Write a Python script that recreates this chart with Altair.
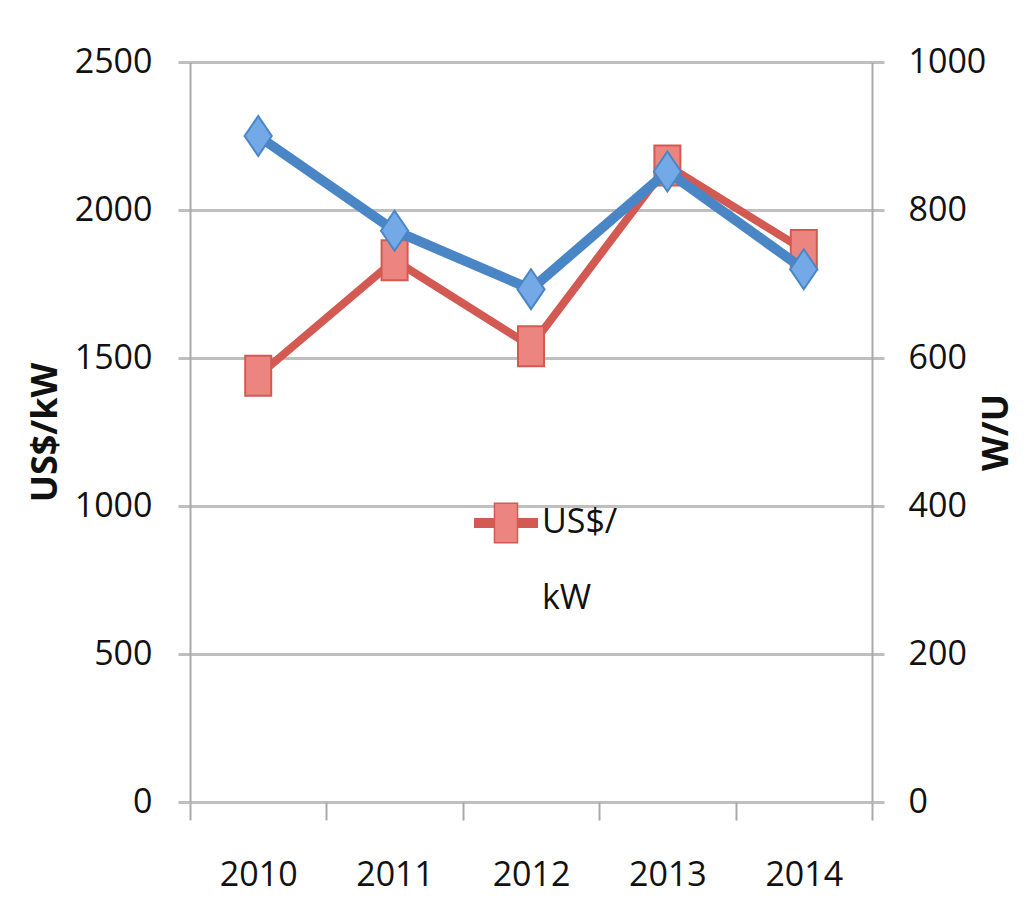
import altair as alt
import pandas as pd

years = [2010, 2011, 2012, 2013, 2014]
usd_per_kw = [1440, 1830, 1540, 2150, 1865]
w_per_u = [900, 772, 693, 852, 720]
left_ticks = [0, 500, 1000, 1500, 2000, 2500]
right_ticks = [0, 200, 400, 600, 800, 1000]
x_ticks = [2009.5, 2010.5, 2011.5, 2012.5, 2013.5, 2014.5]

RED_LINE = "#d35a52"
RED_FILL = "#ec8580"
BLUE_LINE = "#4a86c6"
BLUE_FILL = "#72a9e6"
GRID = "#bfbfbf"
AXISLINE = "#a9a9a9"
FONT = "Open Sans"

df = pd.DataFrame({"year": years, "usd": usd_per_kw, "wu": w_per_u})

W, H = 682, 740

x_enc = alt.X(
    "year:Q",
    scale=alt.Scale(domain=[2009.5, 2014.5], nice=False, zero=False),
    axis=alt.Axis(
        values=x_ticks,
        labelExpr="datum.value < 2014 ? toString(datum.value + 0.5) : ''",
        labelOffset=W / 10,
        tickSize=18, tickColor=AXISLINE, tickWidth=2,
        domain=False, grid=False,
        labelFont=FONT, labelFontSize=34, labelColor="#111111",
        labelBaseline="top", labelPadding=38, labelAlign="center",
        title=None,
    ),
)

left_axis = alt.Axis(
    values=left_ticks, format="d", grid=True, gridColor=GRID, gridWidth=3,
    domainColor=AXISLINE, domainWidth=2,
    tickSize=12, tickColor=GRID, tickWidth=3,
    labelFont=FONT, labelFontSize=34, labelColor="#111111", labelPadding=26,
    title="US$/kW", titleFont=FONT, titleFontWeight="bold",
    titleFontSize=36, titleColor="#111111", titleAngle=270,
    titleX=-145, titleY=H / 2, titleBaseline="middle", titleAlign="center",
)

right_axis = alt.Axis(
    orient="right", values=right_ticks, format="d", grid=False,
    domainColor=AXISLINE, domainWidth=2,
    tickSize=12, tickColor=GRID, tickWidth=3,
    labelFont=FONT, labelFontSize=34, labelColor="#111111", labelPadding=24,
    title="W/U", titleFont=FONT, titleFontWeight="bold",
    titleFontSize=36, titleColor="#111111", titleAngle=270,
    titleX=124, titleY=H / 2, titleBaseline="middle", titleAlign="center",
)

red_y = alt.Y("usd:Q", scale=alt.Scale(domain=[0, 2500], nice=False), axis=left_axis)
blue_y = alt.Y("wu:Q", scale=alt.Scale(domain=[0, 1000], nice=False), axis=right_axis)

SQUARE = "M-0.65,-1H0.65V1H-0.65Z"
DIAMOND = "M-0.68,0L0,-1L0.68,0L0,1Z"

red_line = alt.Chart(df).mark_line(color=RED_LINE, strokeWidth=8).encode(x=x_enc, y=red_y)
red_pts = alt.Chart(df).mark_point(
    shape=SQUARE, size=1600, filled=True, fill=RED_FILL, stroke=RED_LINE,
    strokeWidth=2, opacity=1,
).encode(x=x_enc, y=red_y)
red = alt.layer(red_line, red_pts)

blue_line = alt.Chart(df).mark_line(color=BLUE_LINE, strokeWidth=10).encode(x=x_enc, y=blue_y)
blue_pts = alt.Chart(df).mark_point(
    shape=DIAMOND, size=1600, filled=True, fill=BLUE_FILL, stroke=BLUE_LINE,
    strokeWidth=2, opacity=1,
).encode(x=x_enc, y=blue_y)
blue = alt.layer(blue_line, blue_pts)

legend_df = pd.DataFrame({"series": ["US$/kW"]})
LEGEND_SYM = "M-1,-0.16H1V0.16H-1Z"
legend_sym = alt.Chart(legend_df).mark_point(
    shape=LEGEND_SYM, size=4096, filled=True, fill=RED_LINE, opacity=1,
).encode(x=alt.value(316), y=alt.value(461))
legend_sq = alt.Chart(legend_df).mark_point(
    shape="M-0.36,-0.62H0.36V0.62H-0.36Z", size=4096, filled=True, fill=RED_FILL,
    stroke=RED_LINE, strokeWidth=1.5, opacity=1,
).encode(x=alt.value(316), y=alt.value(461))
legend_txt = alt.Chart(legend_df).mark_text(
    font=FONT, fontSize=34, color="#111111", align="left", baseline="middle",
    lineHeight=76,
).encode(x=alt.value(352), y=alt.value(461), text=alt.value(["US$/", "kW"]))

chart = alt.layer(red, blue, legend_sym, legend_sq, legend_txt).resolve_scale(
    y="independent"
).properties(
    width=W, height=H,
    autosize=alt.AutoSizeParams(type="none"),
    padding={"left": 182, "top": 54, "right": 148, "bottom": 98},
    background="#ffffff",
).configure_view(stroke=None)

chart.save("out.html", embed_options={"renderer": "svg", "actions": False})
